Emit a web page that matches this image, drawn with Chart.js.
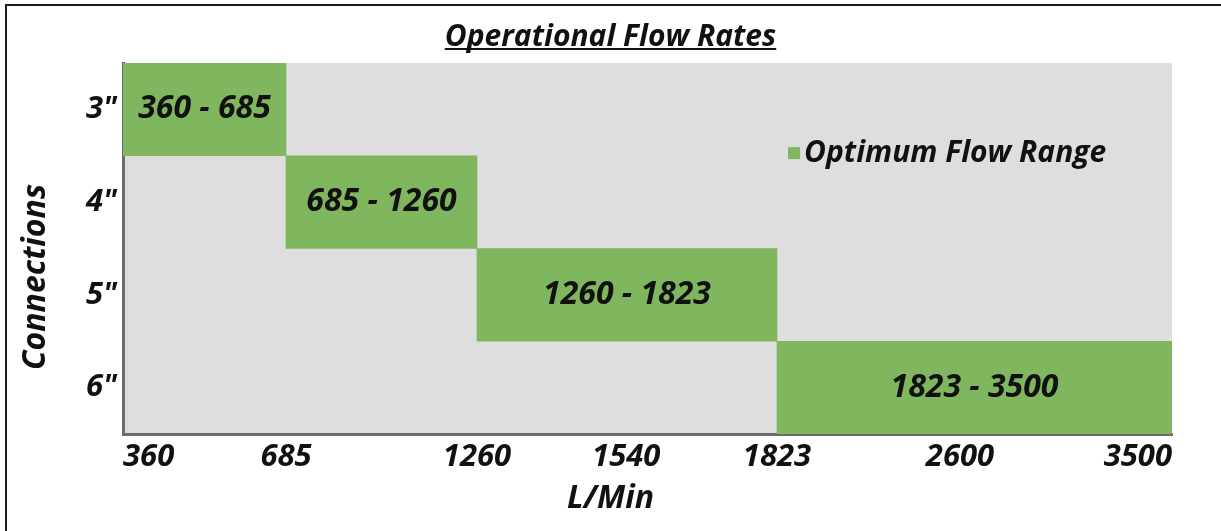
<!DOCTYPE html>
<html>
<head>
<meta charset="utf-8">
<script src="https://cdn.jsdelivr.net/npm/chart.js@4.4.1/dist/chart.umd.min.js"></script>
<style>
html, body { margin: 0; padding: 0; background: #fff; overflow: hidden; }
#wrap { position: relative; width: 1221px; height: 531px; }
#frame { position: absolute; left: 5px; top: 4px; right: -10px; bottom: -10px;
         border-left: 2px solid #1a1a1a; border-top: 2px solid #1a1a1a; }
canvas { position: absolute; left: 0; top: 0; }
</style>
</head>
<body>
<div id="wrap">
  <div id="frame"></div>
  <canvas id="flowChart" width="1221" height="531"></canvas>
</div>
<script>
// Donnees du graphique
const connections = ['3"', '4"', '5"', '6"'];
const flowStart = [360, 685, 1260, 1823];
const flowEnd = [685, 1260, 1823, 3500];
const tickValues = [360, 685, 1260, 1540, 1823, 2600, 3500];
const seriesName = 'Optimum Flow Range';
const chartTitle = 'Operational Flow Rates';
const xTitle = 'L/Min';
const yTitle = 'Connections';

const FONT = "'Open Sans', sans-serif";
const GREEN = '#80b65e';
const INK = '#111';

// Echelle lineaire par morceaux (l'axe d'origine n'est pas proportionnel)
class FlowScale extends Chart.LinearScale {
    static id = 'flow';
    static defaults = {};
    _decimal(v) {
        const b = this.options.breaks, w = this.options.spans;
        const total = w.reduce((a, c) => a + c, 0);
        let acc = 0;
        for (let i = 0; i < w.length; i++) {
            if (v <= b[i + 1] || i === w.length - 1) {
                return (acc + w[i] * (v - b[i]) / (b[i + 1] - b[i])) / total;
            }
            acc += w[i];
        }
        return 0;
    }
    getPixelForValue(value) {
        return this.getPixelForDecimal(this._decimal(value));
    }
    getValueForPixel(pixel) {
        const b = this.options.breaks, w = this.options.spans;
        const total = w.reduce((a, c) => a + c, 0);
        let d = this.getDecimalForPixel(pixel) * total;
        for (let i = 0; i < w.length; i++) {
            if (d <= w[i] || i === w.length - 1) {
                return b[i] + (b[i + 1] - b[i]) * d / w[i];
            }
            d -= w[i];
        }
        return b[0];
    }
}
Chart.register(FlowScale);

const breaks = [...new Set([...flowStart, ...flowEnd])].sort((a, b) => a - b);

// Fond gris, etiquettes des barres, titres et legende
const decor = {
    id: 'decor',
    beforeDraw(chart) {
        const { ctx, chartArea: a } = chart;
        ctx.save();
        ctx.fillStyle = '#dedede';
        ctx.fillRect(a.left, a.top, a.right - a.left, a.bottom - a.top);
        ctx.restore();
    },
    afterDatasetsDraw(chart) {
        const { ctx } = chart;
        const meta = chart.getDatasetMeta(0);
        ctx.save();
        ctx.font = `italic 700 32px ${FONT}`;
        ctx.fillStyle = INK;
        ctx.textAlign = 'center';
        ctx.textBaseline = 'middle';
        meta.data.forEach((bar, i) => {
            ctx.fillText(`${flowStart[i]} - ${flowEnd[i]}`, (bar.x + bar.base) / 2, bar.y);
        });
        ctx.restore();
    },
    afterDraw(chart) {
        const { ctx, chartArea: a, width } = chart;
        ctx.save();
        ctx.fillStyle = INK;
        ctx.textBaseline = 'alphabetic';
        ctx.textAlign = 'center';

        // titre souligne
        ctx.font = `italic 700 30px ${FONT}`;
        const cx = width / 2;
        ctx.fillText(chartTitle, cx, 46);
        const tw = ctx.measureText(chartTitle).width;
        ctx.fillRect(cx - tw / 2, 48, tw, 2);

        // titres des axes
        ctx.font = `italic 700 32px ${FONT}`;
        ctx.textBaseline = 'middle';
        ctx.fillText(xTitle, cx, 499);
        ctx.translate(36, 277);
        ctx.rotate(-Math.PI / 2);
        ctx.fillText(yTitle, 0, 0);
        ctx.restore();

        // legende
        ctx.save();
        const lx = a.left + (a.right - a.left) * 0.634;
        const ly = a.top + (a.bottom - a.top) * 0.243;
        ctx.fillStyle = GREEN;
        ctx.fillRect(lx, ly - 6, 12, 12);
        ctx.fillStyle = INK;
        ctx.font = `italic 700 30px ${FONT}`;
        ctx.textBaseline = 'middle';
        ctx.textAlign = 'left';
        ctx.fillText(seriesName, lx + 16, ly);
        ctx.restore();
    }
};

const ctx = document.getElementById('flowChart').getContext('2d');
const flowChart = new Chart(ctx, {
    type: 'bar',
    data: {
        labels: connections,
        datasets: [{
            label: seriesName,
            data: flowStart.map((s, i) => [s, flowEnd[i]]),
            backgroundColor: GREEN,
            borderWidth: 0,
            barPercentage: 1,
            categoryPercentage: 1
        }]
    },
    options: {
        indexAxis: 'y',
        responsive: false,
        animation: false,
        layout: { padding: { left: 10, top: 63, right: 49, bottom: 0 } },
        plugins: {
            legend: { display: false },
            title: { display: false },
            tooltip: { enabled: false }
        },
        scales: {
            x: {
                type: 'flow',
                min: 360,
                max: 3500,
                breaks: breaks,
                spans: [163, 191, 300, 395],
                afterBuildTicks: (scale) => { scale.ticks = tickValues.map(v => ({ value: v })); },
                afterFit: (scale) => { scale.height = 97; },
                grid: { display: false, drawTicks: false },
                border: { display: true, color: '#6b6b6b', width: 3 },
                ticks: {
                    autoSkip: false,
                    maxRotation: 0,
                    align: 'inner',
                    padding: 5,
                    color: INK,
                    font: { family: FONT, size: 31, style: 'italic', weight: 'bold' },
                    callback: (v) => String(v)
                }
            },
            y: {
                afterFit: (scale) => { scale.width = 113; },
                grid: { display: false, drawTicks: false },
                border: { display: true, color: '#6b6b6b', width: 3 },
                ticks: {
                    padding: 6,
                    color: INK,
                    font: { family: FONT, size: 31, style: 'italic', weight: 'bold' }
                }
            }
        }
    },
    plugins: [decor]
});
</script>
</body>
</html>
